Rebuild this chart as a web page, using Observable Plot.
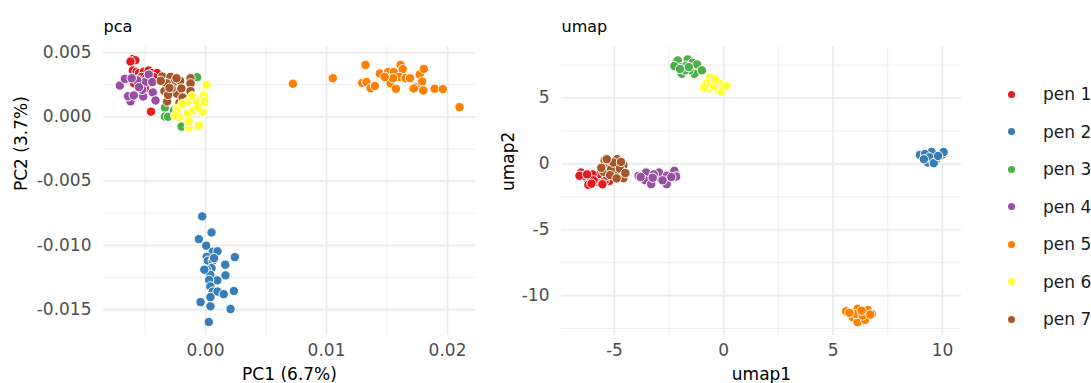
<!DOCTYPE html>
<html>
<head>
<meta charset="utf-8">
<script src="https://cdn.jsdelivr.net/npm/d3@7"></script>
<script src="https://cdn.jsdelivr.net/npm/@observablehq/plot@0.6"></script>
<style>
  html, body { margin: 0; padding: 0; background: #fff; }
  #wrap { position: relative; width: 1091px; height: 383px; overflow: hidden; font-family: "DejaVu Sans", sans-serif; }
  #left, #right { position: absolute; top: 0; }
  #left { left: 0; }
  #right { left: 490px; }
  .lg-dot { position: absolute; width: 7px; height: 7px; border-radius: 50%; }
  .lg-txt { position: absolute; font-size: 17px; color: #1a1a1a; white-space: nowrap; line-height: 20px; }
</style>
</head>
<body>
<div id="wrap">
  <div id="left"></div>
  <div id="right"></div>
  <div id="legend"></div>
</div>
<script>
// ---- categories & colours ----
const groups = ["pen 1", "pen 2", "pen 3", "pen 4", "pen 5", "pen 6", "pen 7"];
const colors = ["#E41A1C", "#377EB8", "#4DAF4A", "#984EA3", "#FF7F00", "#FFFF33", "#A65628"];

// ---- PCA values [PC1, PC2] ----
const pca_pen1 = [[-0.0060,0.0045],[-0.0058,0.0044],[-0.0062,0.0043],[-0.0060,0.0036],[-0.0057,0.0035],[-0.0055,0.0034],[-0.0051,0.0035],[-0.0047,0.0036],[-0.0044,0.0034],[-0.0040,0.0034],[-0.0053,0.0031],[-0.0049,0.0030],[-0.0056,0.0029],[-0.0046,0.0028],[-0.0059,0.0026],[-0.0052,0.0025],[-0.0045,0.0004],[-0.0043,0.0031],[-0.0050,0.0022]];
const pca_pen2 = [[-0.00027,-0.00775],[0.0005,-0.0090],[-0.00055,-0.00952],[0.00006,-0.01003],[0.0006,-0.0105],[0.00099,-0.01047],[0.00242,-0.01092],[0.0001,-0.0109],[0.0002,-0.0112],[0.0006,-0.0112],[0.00163,-0.01151],[0.0005,-0.01178],[0.0001,-0.0119],[0.0004,-0.0123],[0.00165,-0.01234],[0.00097,-0.01273],[0.0003,-0.0127],[0.0004,-0.0132],[0.0006,-0.0136],[0.0010,-0.0136],[0.0015,-0.0138],[0.00234,-0.01356],[0.00041,-0.01403],[-0.00041,-0.01442],[0.00041,-0.01475],[0.00207,-0.01496],[0.00027,-0.01597],[-0.0001,-0.0119],[0.0007,-0.0110]];
const pca_pen3 = [[-0.00069,0.00308],[-0.00336,0.0007],[-0.00336,0.00002],[-0.0031,0.0000],[-0.00198,-0.00076],[-0.0026,0.0005]];
const pca_pen4 = [[-0.00708,0.00243],[-0.00667,0.00295],[-0.0062,0.0012],[-0.0064,0.0016],[-0.00515,0.00158],[-0.00502,0.00269],[-0.00469,0.00329],[-0.00436,0.00189],[-0.00413,0.00127],[-0.00565,0.00282],[-0.00523,0.0021],[-0.00593,0.00166],[-0.0055,0.0023],[-0.0061,0.0030],[-0.0044,0.0027]];
const pca_pen5 = [[0.00722,0.00257],[0.01052,0.0030],[0.01322,0.00404],[0.01295,0.00264],[0.0133,0.0027],[0.01364,0.00222],[0.0140,0.0024],[0.0144,0.00337],[0.01507,0.00347],[0.01529,0.00261],[0.01556,0.00347],[0.01573,0.00218],[0.01612,0.00404],[0.0163,0.0037],[0.0160,0.0031],[0.01653,0.0030],[0.0169,0.0030],[0.01736,0.0023],[0.0177,0.00329],[0.0179,0.00274],[0.01804,0.00373],[0.01799,0.00205],[0.0172,0.0022],[0.01893,0.00218],[0.01961,0.00215],[0.02099,0.00075],[0.0155,0.0030],[0.0148,0.0031]];
const pca_pen6 = [[0.00008,0.00249],[-0.00014,0.00166],[-0.0001,0.0012],[-0.00022,0.00036],[-0.00055,-0.0007],[-0.00138,-0.00081],[-0.00145,0.00025],[-0.00097,0.00049],[-0.00083,0.00127],[-0.00151,0.00114],[-0.00234,0.00062],[-0.0022,0.0000],[-0.0014,-0.0004],[-0.0019,0.0010],[-0.0011,0.0016],[-0.0025,0.0001],[-0.0006,0.0007]];
const pca_pen7 = [[-0.00358,0.00313],[-0.0029,0.0031],[-0.00124,0.0030],[-0.00124,0.0026],[-0.00124,0.0020],[-0.00215,0.00109],[-0.00317,0.00119],[-0.00237,0.0018],[-0.0034,0.0020],[-0.0026,0.0027],[-0.0021,0.0028],[-0.0032,0.0026],[-0.0028,0.0022],[-0.0031,0.0017],[-0.0020,0.0022],[-0.0024,0.0030],[-0.0037,0.0028],[-0.0019,0.0015],[-0.00298,0.00225]];

// ---- UMAP values [umap1, umap2] ----
const umap_pen1 = [[-6.52,-0.66],[-6.22,-1.16],[-6.19,-1.59],[-5.71,-1.41],[-5.65,-0.78],[-5.23,-1.29],[-6.40,-0.90],[-6.00,-0.80],[-5.95,-1.25],[-5.45,-1.30],[-5.35,-0.90],[-6.05,-1.50],[-6.60,-0.90],[-5.55,-1.55],[-6.25,-0.80]];
const umap_pen2 = [[8.97,0.68],[9.32,0.10],[9.63,0.53],[10.01,0.73],[9.50,0.91],[9.20,0.75],[9.70,0.30],[9.40,0.50],[10.05,0.90],[9.15,0.35],[9.60,0.05],[9.80,0.60]];
const umap_pen3 = [[-2.10,7.85],[-1.92,7.35],[-1.65,7.93],[-1.42,7.68],[-1.22,7.55],[-1.34,6.84],[-1.92,6.84],[-2.26,7.42],[-1.57,7.10],[-1.72,7.45],[-1.00,7.10],[-1.77,7.10],[-1.60,7.35],[-2.00,7.20]];
const umap_pen4 = [[-3.90,-0.91],[-3.55,-0.66],[-3.60,-1.24],[-3.32,-1.54],[-2.97,-1.04],[-2.96,-0.66],[-2.61,-1.54],[-2.60,-0.90],[-2.26,-0.53],[-2.18,-0.96],[-2.40,-1.00],[-3.20,-0.80],[-2.80,-1.25],[-3.80,-1.00],[-3.25,-1.05]];
const umap_pen5 = [[5.59,-11.19],[5.90,-11.65],[6.12,-12.02],[6.46,-11.84],[6.78,-11.39],[6.12,-11.00],[6.58,-11.10],[6.05,-11.40],[6.35,-11.50],[5.75,-11.30],[6.30,-11.15],[6.70,-11.45]];
const umap_pen6 = [[-0.63,6.54],[-0.12,6.08],[-0.61,5.73],[0.03,5.73],[-0.25,5.60],[-0.20,6.10],[-0.80,6.10],[-0.45,5.90],[-0.90,5.80],[-0.10,5.50],[0.10,5.90],[-0.40,6.40]];
const umap_pen7 = [[-5.30,-0.02],[-4.88,0.36],[-4.59,-0.10],[-4.95,-0.66],[-4.59,-1.09],[-5.45,0.25],[-5.50,-0.60],[-5.15,-0.40],[-5.05,0.10],[-4.75,-0.35],[-4.50,-0.70],[-5.20,-0.85],[-5.60,-0.30],[-4.70,0.15],[-4.90,-1.10],[-5.35,0.35]];

// ---- tick values ----
const pcaXTicks = [0, 0.01, 0.02];
const pcaXMinor = [-0.005, 0.005, 0.015];
const pcaYTicks = [0.005, 0, -0.005, -0.01, -0.015];
const pcaYMinor = [0.0025, -0.0025, -0.0075, -0.0125];
const umapXTicks = [-5, 0, 5, 10];
const umapXMinor = [-2.5, 2.5, 7.5];
const umapYTicks = [5, 0, -5, -10];
const umapYMinor = [7.5, 2.5, -2.5, -7.5, -12.5];

const pcaSets = [pca_pen1, pca_pen2, pca_pen3, pca_pen4, pca_pen5, pca_pen6, pca_pen7];
const umapSets = [umap_pen1, umap_pen2, umap_pen3, umap_pen4, umap_pen5, umap_pen6, umap_pen7];
const drawOrder = [0, 3, 2, 1, 4, 6, 5];
function rows(sets) {
  const out = [];
  for (const i of drawOrder) for (const [x, y] of sets[i]) out.push({x, y, g: groups[i]});
  return out;
}

const gridCol = "#ebebeb";
const tickCol = "#4d4d4d";
const FS = 17;

function panel({data, width, marginLeft, marginRight, xDomain, yDomain, xTicks, xMinor, yTicks, yMinor, xFmt, yFmt, title, xLabel, yLabel, yLabelDx}) {
  return Plot.plot({
    width, height: 383,
    marginTop: 46, marginBottom: 48, marginLeft, marginRight,
    x: {domain: xDomain},
    y: {domain: yDomain},
    color: {domain: groups, range: colors},
    style: {fontFamily: "DejaVu Sans, sans-serif", fontSize: FS + "px", background: "transparent", overflow: "visible"},
    marks: [
      Plot.gridX(xMinor, {stroke: gridCol, strokeOpacity: 1, strokeWidth: 0.8}),
      Plot.gridY(yMinor, {stroke: gridCol, strokeOpacity: 1, strokeWidth: 0.8}),
      Plot.gridX(xTicks, {stroke: gridCol, strokeOpacity: 1, strokeWidth: 1.7}),
      Plot.gridY(yTicks, {stroke: gridCol, strokeOpacity: 1, strokeWidth: 1.7}),
      Plot.axisX(xTicks, {tickSize: 0, tickPadding: 8, tickFormat: xFmt, fill: tickCol, fontSize: FS, label: null}),
      Plot.axisY(yTicks, {tickSize: 0, tickPadding: 12, tickFormat: yFmt, fill: tickCol, fontSize: FS, label: null}),
      Plot.dot(data, {x: "x", y: "y", fill: "g", stroke: "white", strokeWidth: 1, r: 4.7}),
      Plot.text([title], {frameAnchor: "top-left", dy: -20, textAnchor: "start", lineAnchor: "middle", fontSize: 16, fill: "#000"}),
      Plot.text([xLabel], {frameAnchor: "bottom", dy: 39, lineAnchor: "middle", fontSize: FS, fill: "#000"}),
      Plot.text([yLabel], {frameAnchor: "left", dx: yLabelDx, rotate: -90, lineAnchor: "middle", fontSize: FS, fill: "#000"})
    ]
  });
}

document.getElementById("left").append(panel({
  data: rows(pcaSets), width: 490, marginLeft: 103, marginRight: 15,
  xDomain: [-0.00843, 0.02231], yDomain: [-0.01702, 0.00547],
  xTicks: pcaXTicks, xMinor: pcaXMinor, yTicks: pcaYTicks, yMinor: pcaYMinor,
  xFmt: d => d.toFixed(2), yFmt: d => d.toFixed(3),
  title: "pca", xLabel: "PC1 (6.7%)", yLabel: "PC2 (3.7%)", yLabelDx: -82
}));

document.getElementById("right").append(panel({
  data: rows(umapSets), width: 480, marginLeft: 71, marginRight: 9,
  xDomain: [-7.42, 10.87], yDomain: [-13.03, 8.91],
  xTicks: umapXTicks, xMinor: umapXMinor, yTicks: umapYTicks, yMinor: umapYMinor,
  xFmt: d => String(d), yFmt: d => String(d),
  title: "umap", xLabel: "umap1", yLabel: "umap2", yLabelDx: -53
}));

// ---- legend ----
const legend = document.getElementById("legend");
groups.forEach((g, i) => {
  const cy = 94 + i * 37.5;
  const dot = document.createElement("div");
  dot.className = "lg-dot";
  dot.style.left = (1011.7 - 3.5) + "px";
  dot.style.top = (cy - 3.5) + "px";
  dot.style.background = colors[i];
  const txt = document.createElement("div");
  txt.className = "lg-txt";
  txt.style.left = "1043px";
  txt.style.top = (cy - 10) + "px";
  txt.textContent = g;
  legend.append(dot, txt);
});
</script>
</body>
</html>
